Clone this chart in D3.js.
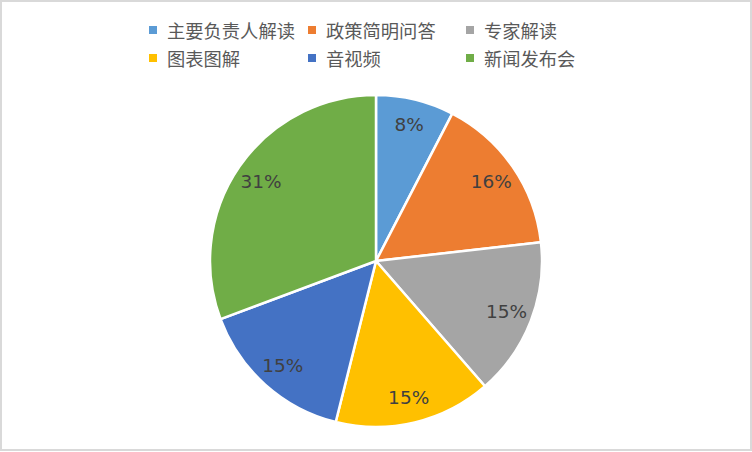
<!DOCTYPE html>
<html>
<head>
<meta charset="utf-8">
<script src="https://cdn.jsdelivr.net/npm/d3@7"></script>
<style>
  body { margin: 0; background: #fff; }
  svg { display: block; }
</style>
</head>
<body>
<script>
const categories = ["主要负责人解读", "政策简明问答", "专家解读", "图表图解", "音视频", "新闻发布会"];
const values = [7.6, 15.6, 15.4, 15.3, 15.4, 30.7];
const colors = ["#5b9bd5", "#ed7d31", "#a5a5a5", "#ffc000", "#4472c4", "#70ad47"];

const width = 752;
const height = 452;
const cx = 376, cy = 261, radius = 166;

const svg = d3.select("body")
    .append("svg")
    .attr("width", width)
    .attr("height", height);

svg.append("rect")
    .attr("x", 1)
    .attr("y", 1)
    .attr("width", width - 2)
    .attr("height", height - 3)
    .attr("fill", "#fff")
    .attr("stroke", "#d9d9d9")
    .attr("stroke-width", 2);

const data = categories.map((c, i) => ({ name: c, value: values[i], color: colors[i] }));
const total = d3.sum(values);

const pie = d3.pie().value(d => d.value).sort(null);
const arc = d3.arc().innerRadius(0).outerRadius(radius);
const labelArc = d3.arc().innerRadius(140).outerRadius(140);

const g = svg.append("g").attr("transform", `translate(${cx},${cy})`);

g.selectAll("path")
    .data(pie(data))
    .enter()
    .append("path")
    .attr("d", arc)
    .attr("fill", d => d.data.color)
    .attr("stroke", "#fff")
    .attr("stroke-width", 2.5)
    .attr("stroke-linejoin", "round");

g.selectAll(".label")
    .data(pie(data))
    .enter()
    .append("text")
    .attr("class", "label")
    .attr("transform", d => `translate(${labelArc.centroid(d)})`)
    .attr("text-anchor", "middle")
    .attr("dominant-baseline", "central")
    .style("font-family", "'DejaVu Sans', sans-serif")
    .style("font-size", "18.5px")
    .style("fill", "#404040")
    .text(d => `${Math.round(d.data.value / total * 100)}%`);

// legend: 3 columns x 2 rows
const legendX = [149, 308, 466];
const legendY = [30, 58];

const legend = svg.selectAll(".legend")
    .data(data)
    .enter()
    .append("g")
    .attr("class", "legend")
    .attr("transform", (d, i) => `translate(${legendX[i % 3]},${legendY[Math.floor(i / 3)]})`);

legend.append("rect")
    .attr("x", 0)
    .attr("y", -4)
    .attr("width", 8)
    .attr("height", 8)
    .attr("fill", d => d.color);

legend.append("text")
    .attr("x", 18)
    .attr("y", 0)
    .attr("dominant-baseline", "central")
    .style("font-family", "'Noto Sans CJK SC', sans-serif")
    .style("font-size", "18.3px")
    .style("fill", "#595959")
    .text(d => d.name);
</script>
</body>
</html>
